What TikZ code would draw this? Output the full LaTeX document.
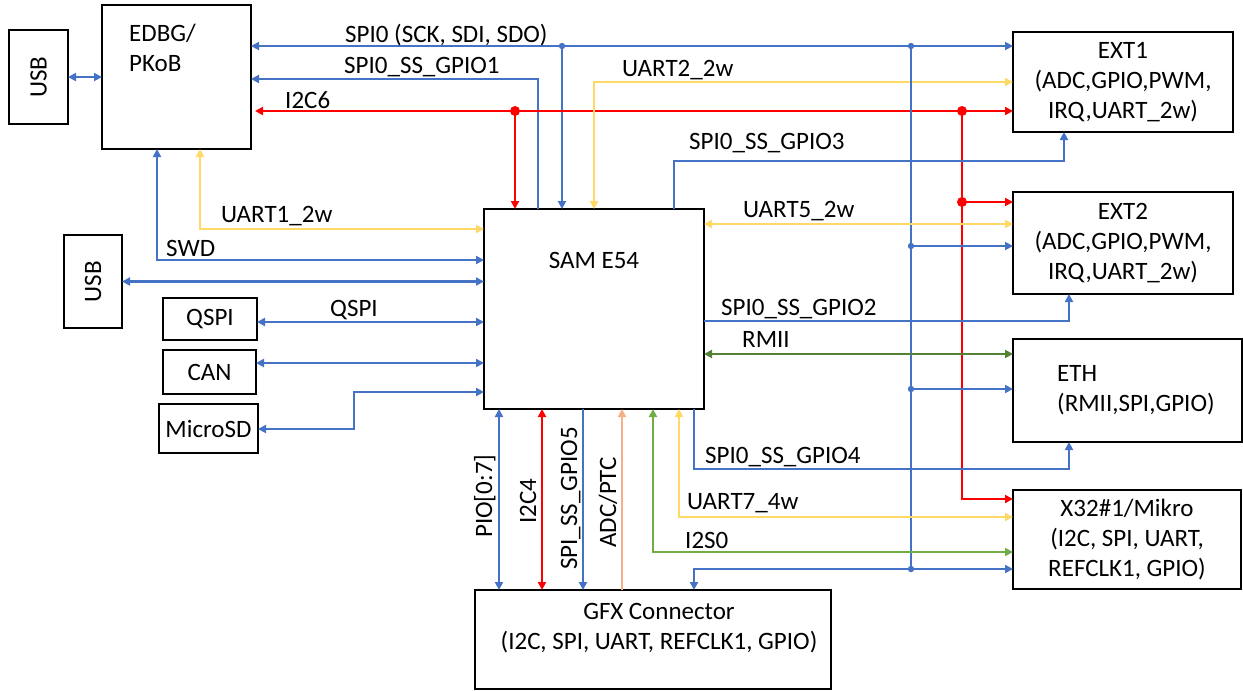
\documentclass[tikz,border=0pt]{standalone}
\usepackage{fontspec}
\setmainfont{Carlito}
\usetikzlibrary{arrows.meta,positioning,calc}
\definecolor{cblue}{HTML}{4472C4}
\definecolor{cred}{HTML}{FF0000}
\definecolor{cyel}{HTML}{FFD966}
\definecolor{cgrn}{HTML}{548235}
\definecolor{clgrn}{HTML}{70AD47}
\definecolor{cpch}{HTML}{F4B183}

\begin{document}
\begin{tikzpicture}[
  x=1pt, y=-1pt,
  font=\fontsize{25}{30}\selectfont,
  >={Triangle[length=8pt,width=8pt]},
  box/.style={draw, line width=2pt, inner sep=0pt, outer sep=0pt, align=center},
  lbl/.style={anchor=base west, inner sep=0pt},
  bl/.style={cblue, line width=2.2pt},
  blt/.style={cblue, line width=2.8pt},
  rd/.style={cred, line width=2.5pt},
  yl/.style={cyel, line width=2.2pt},
  gn/.style={cgrn, line width=2.2pt},
  lg/.style={clgrn, line width=2.2pt},
  pc/.style={cpch, line width=2.2pt}
]
\useasboundingbox (0,0) rectangle (1243,691);

\node[box, rotate=90, minimum width=94pt, minimum height=59pt] (usbA) at (38.5,77) {USB};
\node[box, minimum width=149pt, minimum height=144pt] (edbg) at (176.5,77) {};
\node[anchor=north west, align=left, inner sep=0pt] (edbgtxt) at (129,24) {EDBG/\\PKoB};
\node[box, minimum width=220pt, minimum height=200pt] (sam) at (594,309) {};
\node[anchor=base, inner sep=0pt] (samtxt) at (594,268) {SAM E54};
\node[box, rotate=90, minimum width=93pt, minimum height=58pt] (usbB) at (93,281.5) {USB};
\node[box, minimum width=94pt, minimum height=42pt] (qspi) at (210,319) {QSPI};
\node[box, minimum width=93pt, minimum height=44pt] (can) at (209.5,372) {CAN};
\node[box, minimum width=99pt, minimum height=49pt] (microsd) at (208.5,428.5) {MicroSD};
\node[box, minimum width=220pt, minimum height=100pt] (ext1) at (1123,82) {EXT1\\(ADC,GPIO,PWM,\\IRQ,UART\_2w)};
\node[box, minimum width=220pt, minimum height=102pt] (ext2) at (1123,243) {EXT2\\(ADC,GPIO,PWM,\\IRQ,UART\_2w)};
\node[box, minimum width=229pt, minimum height=103pt] (eth) at (1127.5,390.5) {};
\node[anchor=north west, align=left, inner sep=0pt] (ethtxt) at (1057,365) {ETH\\(RMII,SPI,GPIO)};
\node[box, minimum width=228pt, minimum height=99pt] (x32) at (1127,539.5) {X32\#1/Mikro\\(I2C, SPI, UART,\\REFCLK1, GPIO)};
\node[box, minimum width=356pt, minimum height=99pt] (gfx) at (653,639.5) {};
\node[anchor=north, align=center, inner sep=0pt] (gfxtxt) at (659,603) {GFX Connector\\(I2C, SPI, UART, REFCLK1, GPIO)};

\coordinate (j1) at (562,46);
\coordinate (j2) at (911,46);
\coordinate (j3) at (515,111);
\coordinate (j4) at (962,111);
\coordinate (j5) at (962,202);
\coordinate (j6) at (911,246);
\coordinate (j7) at (911,389);
\coordinate (j8) at (911,569);
\coordinate (k1) at (538,79);
\coordinate (k2) at (962,499);
\coordinate (k3) at (594,82);
\coordinate (k4) at (674,161);
\coordinate (k4b) at (1064,161);
\coordinate (k5) at (694,569);
\coordinate (k6) at (200,229);
\coordinate (k7) at (157,260);
\coordinate (k8) at (300,322);
\coordinate (k8b) at (300,363);
\coordinate (k9) at (354,429);
\coordinate (k10) at (354,392);
\coordinate (k11) at (800,224);
\coordinate (k12) at (1069,321);
\coordinate (k13) at (800,354);
\coordinate (k14) at (694,469);
\coordinate (k15) at (1069,469);
\coordinate (k16) at (679,517);
\coordinate (k17) at (653,552);
\coordinate (p1) at (499,500);
\coordinate (p2) at (542,500);
\coordinate (p3) at (583,500);
\coordinate (p4) at (622,500);

\draw[bl, <->] (usbA) -- (edbg);
\draw[bl, <->] (edbg.east |- j1) -- (ext1.west |- j1);
\draw[bl, ->] (j1) -- (sam.north -| j1);
\draw[bl, ->] (sam.north -| k1) -- (k1) -- (edbg.east |- k1);
\draw[rd, <->, shorten <=4pt] (edbg.east |- j3) -- (ext1.west |- j3);
\draw[rd, ->] (j3) -- (sam.north -| j3);
\draw[rd, ->] (j4) -- (k2) -- (x32.west |- k2);
\draw[rd, ->] (j5) -- (ext2.west |- j5);
\draw[yl, <->] (sam.north -| k3) -- (k3) -- (ext1.west |- k3);
\draw[blt, ->] (sam.north -| k4) -- (k4) -- (k4b) -- (ext1.south -| k4b);
\draw[blt] (j2) -- (j8);
\draw[bl, ->] (j6) -- (ext2.west |- j6);
\draw[bl, ->] (j7) -- (eth.west |- j7);
\draw[bl, <->] (gfx.north -| k5) -- (k5) -- (x32.west |- k5);
\draw[yl, <->] (edbg.south -| k6) -- (k6) -- (sam.west |- k6);
\draw[bl, <->] (edbg.south -| k7) -- (k7) -- (sam.west |- k7);
\draw[bl, <->] (usbB) -- (sam.west |- usbB);
\draw[bl, <->] (qspi.east |- k8) -- (sam.west |- k8);
\draw[bl, <->] (can.east |- k8b) -- (sam.west |- k8b);
\draw[bl, <->] (microsd.east |- k9) -- (k9) -- (k10) -- (sam.west |- k10);
\draw[yl, <->] (sam.east |- k11) -- (ext2.west |- k11);
\draw[blt, ->] (sam.east |- k12) -- (k12) -- (ext2.south -| k12);
\draw[gn, <->] (sam.east |- k13) -- (eth.west |- k13);
\draw[blt, ->] (sam.south -| k14) -- (k14) -- (k15) -- (eth.south -| k15);
\draw[yl, <->] (sam.south -| k16) -- (k16) -- (x32.west |- k16);
\draw[lg, <->] (sam.south -| k17) -- (k17) -- (x32.west |- k17);
\draw[bl, <->] (sam.south -| p1) -- (gfx.north -| p1);
\draw[rd, <->] (sam.south -| p2) -- (gfx.north -| p2);
\draw[bl, ->] (sam.south -| p3) -- (gfx.north -| p3);
\draw[pc, ->] (gfx.north -| p4) -- (sam.south -| p4);

\foreach \j in {j1,j2,j6,j7,j8} \fill[cblue] (\j) circle (3.2);
\foreach \j in {j3,j4,j5} \fill[cred] (\j) circle (5);

\node[lbl] (lspi) at (345,42) {SPI0 (SCK, SDI, SDO)};
\node[lbl] (lgp1) at (344,73) {SPI0\_SS\_GPIO1};
\node[lbl] (li2c6) at (285,108) {I2C6};
\node[lbl] (lu1) at (221,222) {UART1\_2w};
\node[lbl] (lu2) at (622,76) {UART2\_2w};
\node[lbl] (lgp3) at (689,149) {SPI0\_SS\_GPIO3};
\node[lbl] (lswd) at (166,256) {SWD};
\node[lbl] (lqspi) at (330,316) {QSPI};
\node[lbl] (lu5) at (743,217) {UART5\_2w};
\node[lbl] (lgp2) at (721,315) {SPI0\_SS\_GPIO2};
\node[lbl] (lrmii) at (742,347) {RMII};
\node[lbl] (lgp4) at (705,463) {SPI0\_SS\_GPIO4};
\node[lbl] (lu7) at (687,509) {UART7\_4w};
\node[lbl] (li2s) at (685,548) {I2S0};
\node[lbl, rotate=90] (lpio) at (492,538) {PIO[0:7]};
\node[lbl, rotate=90] (li2c4) at (536,524) {I2C4};
\node[lbl, rotate=90] (lgp5) at (577,570) {SPI\_SS\_GPIO5};
\node[lbl, rotate=90] (ladc) at (616,548) {ADC/PTC};
\end{tikzpicture}
\end{document}
